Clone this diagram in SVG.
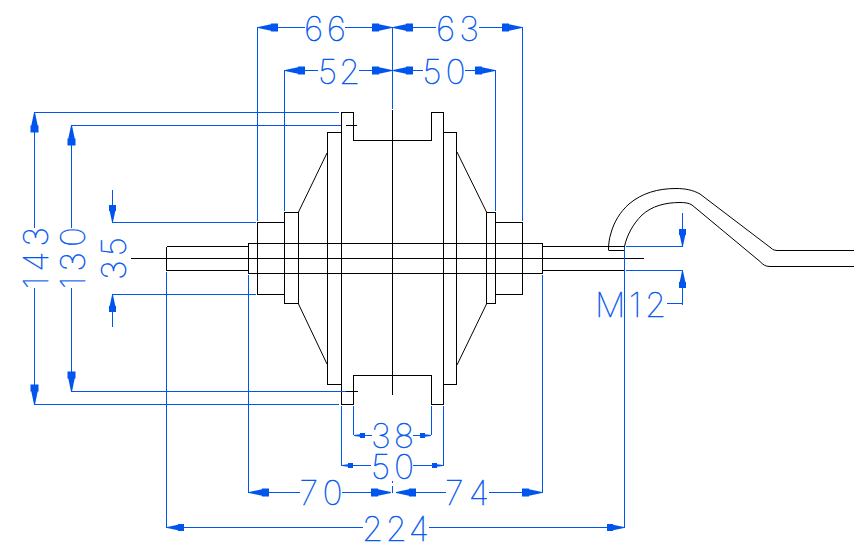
<svg xmlns="http://www.w3.org/2000/svg" width="867" height="557" viewBox="0 0 867 557">
<style>
.k{fill:none;stroke:#000;stroke-width:1}
.b{fill:none;stroke:#0055ee;stroke-width:1}
.a{marker-end:url(#al)}
.m{marker-end:url(#am)}
.s{marker-end:url(#as)}
.t{font-family:Inter,"Liberation Sans",sans-serif;font-weight:100;font-size:34px;fill:#0055ee;stroke:#0055ee;stroke-width:.45;text-anchor:middle}
</style>
<defs>
<marker id="al" markerUnits="userSpaceOnUse" viewBox="-21 -6 22 12" markerWidth="22" markerHeight="12" refX="0" refY="0" orient="auto"><path d="M0 -.5L-13 -3.2V-4H-20V4H-13V3.2L0 .5Z" fill="#0055ee"/></marker>
<marker id="am" markerUnits="userSpaceOnUse" viewBox="-21 -6 22 12" markerWidth="22" markerHeight="12" refX="0" refY="0" orient="auto"><path d="M0 -.5L-11 -2.8V-3.5H-17V3.5H-11V2.8L0 .5Z" fill="#0055ee"/></marker>
<marker id="as" markerUnits="userSpaceOnUse" viewBox="-21 -6 22 12" markerWidth="22" markerHeight="12" refX="0" refY="0" orient="auto"><path d="M0 -.5L-6 -1.2V-2.5H-11V2.5H-6V1.2L0 .5Z" fill="#0055ee"/></marker>
</defs>
<rect width="867" height="557" fill="#fff"/>
<g id="hub" shape-rendering="crispEdges">
<path class="k" d="M392.5 110V394.5"/>
<path class="k" d="M131 258.5H644"/>
<path class="k" d="M166.5 246.5V270.5H248.5M166.5 246.5H248.5"/>
<path class="k" d="M248.5 243.5H542.5V273.5H248.5Z"/>
<path class="k" d="M542.5 246.5H624.5V270.5H542.5"/>
<path class="k" d="M257.5 222.5H284.5V294.5H257.5Z"/>
<path class="k" d="M284.5 212.5H298.5V303.5H284.5Z"/>
<path class="k" d="M522.5 222.5H495.5V294.5H522.5Z"/>
<path class="k" d="M495.5 212.5H486.5V303.5H495.5Z"/>
<path class="k" d="M341.5 132.5H327.5V384.5H341.5"/>
<path class="k" d="M443.5 132.5H456.5V384.5H443.5"/>
<path class="k" d="M341.5 404.5V112.5H353.5V140.5H431.5V112.5H443.5V404.5H431.5V375.5H353.5V404.5Z"/>
<path class="k" d="M346 125.5H357M346 391.5H358"/>
</g>
<g id="cones">
<path class="k" d="M327 153L298.5 212M457 152L486.5 212M298.5 304L327 364M486.5 304L457 365"/>
</g>
<g id="hook">
<path class="k" d="M608.5 250.5C608.5 245 609 239 611 233C614 222 620 212 629 204C642 193 658 188.5 676 188.5C685 188.5 693 190 700 194L771 248C773 250 775 250.5 778 250.5H854"/>
<path class="k" d="M624.5 246.5C627 235 633 224 642 215C652 206 665 202.5 680 202.5C685 202.5 689 203 692 205L760 261.5C763 264.5 765 266.5 770 266.5H854"/>
<path class="k" shape-rendering="crispEdges" d="M608.5 250.5H624.5"/>
</g>
<g id="dimensions" shape-rendering="crispEdges">
<path class="b" d="M257.5 27V221M522.5 27V221M392.5 27V109M284.5 70V211M495.5 70V211"/>
<path class="b a" d="M305 27.5H258"/><path class="b a" d="M345 27.5H392"/>
<path class="b a" d="M436 27.5H393"/><path class="b a" d="M479 27.5H522"/>
<path class="b a" d="M318 70.5H285"/><path class="b a" d="M359 70.5H392"/>
<path class="b a" d="M423 70.5H393"/><path class="b a" d="M465 70.5H495"/>
<path class="b" d="M34 112.5H339M71 125.5H341M112 222.5H256M112 294.5H256M71 391.5H346M34 404.5H339"/>
<path class="b a" d="M34.5 228V112.5"/><path class="b a" d="M34.5 288V404.5"/>
<path class="b a" d="M71.5 228V125.5"/><path class="b a" d="M71.5 288V391.5"/>
<path class="b m" d="M112.5 190V222"/><path class="b m" d="M112.5 327V295"/>
<path class="b" d="M166.5 272V527.5M248.5 275V492.5M542.5 275V492.5M624.5 247V527.5"/>
<path class="b" d="M341.5 406V466M353.5 406V435M431.5 406V435M443.5 406V466M392.5 481V483M392.5 486V493"/>
<path class="b s" d="M372 435.5H354"/><path class="b s" d="M413 435.5H431"/>
<path class="b s" d="M371 465.5H342"/><path class="b s" d="M413 465.5H443"/>
<path class="b a" d="M300 492.5H249"/><path class="b a" d="M342 492.5H391"/>
<path class="b a" d="M446 492.5H396"/><path class="b a" d="M489 492.5H542"/>
<path class="b m" d="M363 527.5H167"/><path class="b m" d="M429 527.5H624"/>
<path class="b m" d="M682.5 213V246"/><path class="b m" d="M682.5 304.5V271"/>
<path class="b" d="M626 246.5H683M626 270.5H683M667 303.5H682.5"/>
</g>
<g id="labels">
<text class="t" x="325" y="41" textLength="42">66</text>
<text class="t" x="457.5" y="41" textLength="43">63</text>
<text class="t" x="339" y="83.5" textLength="42">52</text>
<text class="t" x="444" y="83.5" textLength="43">50</text>
<text class="t" transform="translate(47.5 258) rotate(-90)" textLength="62">143</text>
<text class="t" transform="translate(85 258) rotate(-90)" textLength="62">130</text>
<text class="t" transform="translate(126 258.5) rotate(-90)" textLength="43">35</text>
<text class="t" x="392.5" y="448" textLength="43">38</text>
<text class="t" x="392.5" y="479" textLength="43">50</text>
<text class="t" x="321" y="505" textLength="43">70</text>
<text class="t" x="467" y="505" textLength="44">74</text>
<text class="t" x="395.5" y="541" textLength="67">224</text>
<text class="t" x="630.5" y="317" textLength="71">M12</text>
</g>
</svg>
